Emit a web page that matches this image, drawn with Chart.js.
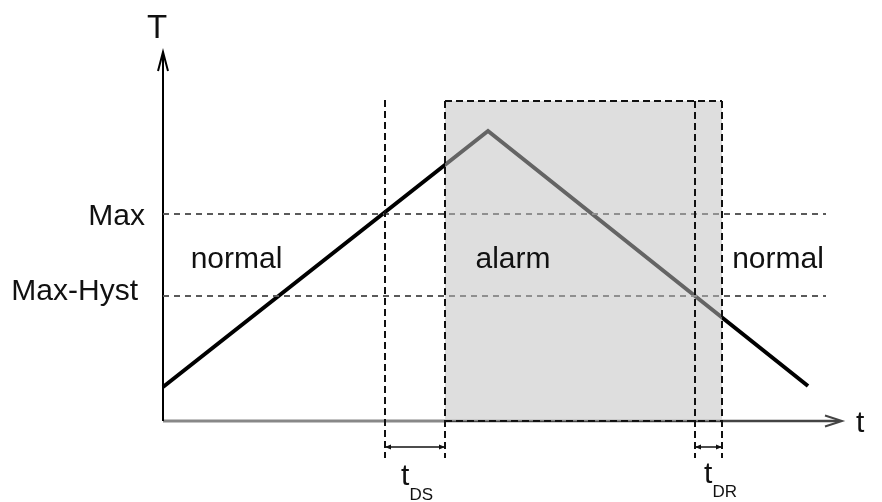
<!DOCTYPE html>
<html>
<head>
<meta charset="utf-8">
<script src="https://cdn.jsdelivr.net/npm/chart.js@4"></script>
<style>
  body { margin: 0; background: #fff; }
  canvas { display: block; }
</style>
</head>
<body>
<canvas id="hyst-chart" width="882" height="502"></canvas>
<script>
//? Data (time units on x, temperature units on y)
const timePts = [0, 32.5, 64.5]
const tempPts = [3.4, 29.0, 3.5]
const maxTemp = 20.7
const maxHyst = 12.5
const limitEnd = 66.3
// tDS start, alarm start, tDR start, alarm end
const markTimes = [22.2, 28.2, 53.2, 55.9]
const alarmTop = 32.0
const zoneLabels = ['normal', 'alarm', 'normal']
const zoneTimes = [7.35, 35.0, 61.5]
const levelLabels = ['Max', 'Max-Hyst']
const levelValues = [maxTemp, maxHyst]

const FONT = '"Liberation Sans", Arial, sans-serif'

//? Axes, alarm zone, markers and texts
const diagramPlugin = {
    id: 'diagram',
    beforeDatasetsDraw(chart) {
        const { ctx, scales: { x, y } } = chart
        const as = markTimes[1]
        ctx.save()
        // t axis: grey up to the alarm, darker after it
        ctx.strokeStyle = '#888'
        ctx.lineWidth = 3
        ctx.beginPath()
        ctx.moveTo(x.getPixelForValue(0), y.getPixelForValue(0))
        ctx.lineTo(x.getPixelForValue(as), y.getPixelForValue(0))
        ctx.stroke()
        ctx.strokeStyle = '#444'
        ctx.lineWidth = 2.5
        ctx.beginPath()
        ctx.moveTo(x.getPixelForValue(as), y.getPixelForValue(0))
        ctx.lineTo(x.getPixelForValue(67.6), y.getPixelForValue(0))
        ctx.stroke()
        ctx.lineWidth = 2
        ctx.beginPath()
        ctx.moveTo(x.getPixelForValue(66.2), y.getPixelForValue(0.55))
        ctx.lineTo(x.getPixelForValue(67.9), y.getPixelForValue(0))
        ctx.lineTo(x.getPixelForValue(66.2), y.getPixelForValue(-0.55))
        ctx.stroke()
        // T axis
        ctx.strokeStyle = '#000'
        ctx.lineWidth = 2
        ctx.beginPath()
        ctx.moveTo(x.getPixelForValue(0), y.getPixelForValue(0))
        ctx.lineTo(x.getPixelForValue(0), y.getPixelForValue(36.8))
        ctx.stroke()
        ctx.beginPath()
        ctx.moveTo(x.getPixelForValue(-0.5), y.getPixelForValue(35.0))
        ctx.lineTo(x.getPixelForValue(0), y.getPixelForValue(36.9))
        ctx.lineTo(x.getPixelForValue(0.5), y.getPixelForValue(35.0))
        ctx.stroke()
        ctx.restore()
    },
    afterDatasetsDraw(chart) {
        const { ctx, scales: { x, y } } = chart
        const [ds, as, dr, ae] = markTimes
        ctx.save()
        // grey alarm zone laid over the curve
        ctx.fillStyle = 'rgba(192,192,192,0.52)'
        ctx.fillRect(x.getPixelForValue(as), y.getPixelForValue(alarmTop),
            x.getPixelForValue(ae) - x.getPixelForValue(as),
            y.getPixelForValue(0) - y.getPixelForValue(alarmTop))

        ctx.strokeStyle = '#111'
        ctx.lineWidth = 2
        ctx.setLineDash([7, 4])
        ctx.beginPath()
        ctx.moveTo(x.getPixelForValue(as), y.getPixelForValue(0))
        ctx.lineTo(x.getPixelForValue(ae), y.getPixelForValue(0))
        ctx.moveTo(x.getPixelForValue(as), y.getPixelForValue(alarmTop))
        ctx.lineTo(x.getPixelForValue(ae), y.getPixelForValue(alarmTop))
        ctx.stroke()
        const lowEnd = -3.7
        ;[[ds, 32.1], [as, alarmTop], [dr, alarmTop], [ae, alarmTop]].forEach(([t, top]) => {
            ctx.beginPath()
            ctx.moveTo(x.getPixelForValue(t), y.getPixelForValue(top))
            ctx.lineTo(x.getPixelForValue(t), y.getPixelForValue(lowEnd))
            ctx.stroke()
        })
        ctx.setLineDash([])

        // delay arrows
        const ay = y.getPixelForValue(-2.6)
        ctx.lineWidth = 1.5
        ;[[ds, as], [dr, ae]].forEach(([a, b]) => {
            const xa = x.getPixelForValue(a), xb = x.getPixelForValue(b)
            ctx.beginPath()
            ctx.moveTo(xa, ay)
            ctx.lineTo(xb, ay)
            ctx.stroke()
            ctx.beginPath()
            ctx.moveTo(xa, ay); ctx.lineTo(xa + 6, ay - 2.5); ctx.lineTo(xa + 6, ay + 2.5); ctx.closePath()
            ctx.moveTo(xb, ay); ctx.lineTo(xb - 6, ay - 2.5); ctx.lineTo(xb - 6, ay + 2.5); ctx.closePath()
            ctx.fillStyle = '#111'
            ctx.fill()
        })

        // texts
        ctx.fillStyle = '#111'
        ctx.textBaseline = 'alphabetic'
        ctx.font = '30px ' + FONT
        ctx.textAlign = 'center'
        zoneLabels.forEach((lab, i) => {
            ctx.fillText(lab, x.getPixelForValue(zoneTimes[i]), y.getPixelForValue(15.3))
        })
        ctx.textAlign = 'right'
        ctx.fillText(levelLabels[0], x.getPixelForValue(-1.8), y.getPixelForValue(levelValues[0]) + 11)
        ctx.fillText(levelLabels[1], x.getPixelForValue(-2.5), y.getPixelForValue(levelValues[1]) + 4)

        ctx.textAlign = 'left'
        ctx.font = '33px ' + FONT
        ctx.fillText('T', x.getPixelForValue(-1.6), y.getPixelForValue(38.3))
        ctx.font = '30px ' + FONT
        ctx.fillText('t', x.getPixelForValue(69.3), y.getPixelForValue(-1.1))

        const sub = (t, s, base, subBase) => {
            ctx.font = '30px ' + FONT
            ctx.fillText('t', t, base)
            ctx.font = '17px ' + FONT
            ctx.fillText(s, t + 8.5, subBase)
        }
        sub(x.getPixelForValue(23.8), 'DS', y.getPixelForValue(-6.4), y.getPixelForValue(-7.9))
        sub(x.getPixelForValue(54.1), 'DR', y.getPixelForValue(-6.2), y.getPixelForValue(-7.6))
        ctx.restore()
    }
}

const configDiagram = {
    type: 'line',
    data: {
        datasets: [
            {
                label: 'Max',
                data: [{ x: 0, y: maxTemp }, { x: limitEnd, y: maxTemp }],
                borderColor: '#5a5a5a',
                borderWidth: 2,
                borderDash: [6, 5]
            },
            {
                label: 'Max-Hyst',
                data: [{ x: 0, y: maxHyst }, { x: limitEnd, y: maxHyst }],
                borderColor: '#5a5a5a',
                borderWidth: 2,
                borderDash: [6, 5]
            },
            {
                label: 'T',
                data: timePts.map((t, i) => ({ x: t, y: tempPts[i] })),
                borderColor: '#000',
                borderWidth: 4,
                borderCapStyle: 'butt',
                tension: 0
            }
        ]
    },
    options: {
        responsive: false,
        animation: false,
        layout: { padding: 0 },
        elements: { point: { radius: 0 } },
        plugins: { legend: { display: false }, tooltip: { enabled: false } },
        scales: {
            x: { type: 'linear', min: -16.3, max: 71.9, display: false },
            y: { type: 'linear', min: -8.1, max: 42.1, display: false }
        }
    },
    plugins: [diagramPlugin]
}

const diagramCanvas = document.getElementById('hyst-chart')
const diagramChart = new Chart(diagramCanvas, configDiagram)
</script>
</body>
</html>
